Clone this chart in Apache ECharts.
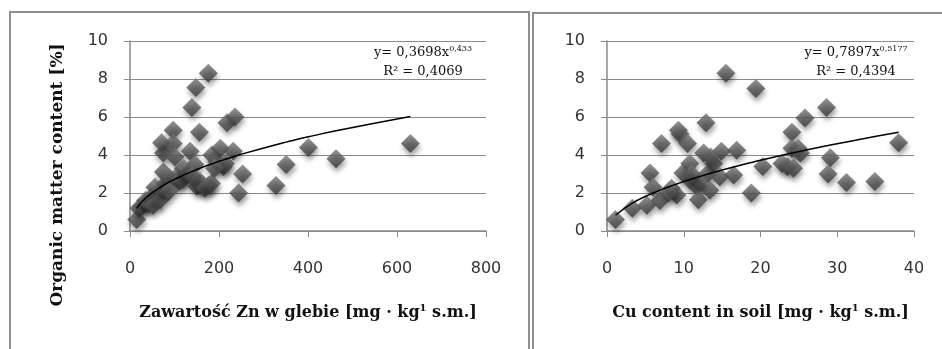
<!DOCTYPE html>
<html>
<head>
<meta charset="utf-8">
<script src="https://cdn.jsdelivr.net/npm/echarts@6/dist/echarts.min.js"></script>
<style>
html,body{margin:0;padding:0;background:#fff;}
#c{width:942px;height:349px;}
</style>
</head>
<body>
<div id="c"></div>
<script>
// ---- Data ----
var znX = [15, 20, 28, 35, 42, 49, 52, 56, 62, 68, 72, 75, 75, 71, 80, 88, 97, 97, 101, 105, 110, 118, 128, 135, 139, 148, 176, 156, 146, 150, 157, 161, 168, 176, 183, 184, 195, 203, 210, 214, 218, 236, 232, 244, 253, 328, 351, 401, 463, 630, 120, 88, 140, 190];
var znY = [0.6, 1.2, 1.3, 1.6, 1.45, 1.8, 1.35, 2.3, 2.0, 1.65, 2.2, 3.1, 4.1, 4.65, 2.5, 2.8, 5.3, 4.6, 3.9, 2.85, 2.6, 2.7, 3.0, 4.2, 6.5, 7.55, 8.3, 5.2, 3.5, 2.35, 2.6, 2.45, 2.25, 2.4, 2.5, 4.0, 3.65, 4.35, 3.4, 3.55, 5.7, 6.0, 4.2, 2.0, 3.0, 2.4, 3.5, 4.4, 3.8, 4.6, 3.3, 2.1, 2.9, 3.3];
var cuX = [1.1, 3.3, 5.2, 6.9, 5.6, 6.0, 7.1, 9.3, 9.5, 10.5, 9.1, 8.4, 9.9, 10.8, 10.8, 11.7, 11.9, 12.6, 12.9, 13.2, 13.4, 13.9, 14.7, 14.9, 15.5, 16.9, 16.5, 18.8, 19.4, 20.3, 22.8, 23.5, 24.1, 24.1, 24.9, 24.3, 25.8, 28.6, 29.1, 28.8, 31.2, 34.9, 38.0, 12.0, 11.0, 8.0, 13.5, 25.2];
var cuY = [0.6, 1.2, 1.35, 1.6, 3.05, 2.3, 4.6, 5.3, 5.1, 4.6, 1.9, 2.25, 3.05, 3.55, 2.7, 2.35, 1.65, 4.1, 5.7, 3.05, 2.15, 3.55, 2.85, 4.2, 8.3, 4.25, 2.95, 2.0, 7.5, 3.4, 3.55, 3.4, 5.2, 4.35, 4.35, 3.3, 5.95, 6.5, 3.85, 3.0, 2.55, 2.6, 4.65, 2.6, 3.0, 2.0, 3.9, 4.1];
// trend line equations shown on the chart: y = a * x^b
var znTrend = [0.3698, 0.433];
var cuTrend = [0.7897, 0.5177];
var znEq = ["y= 0,3698x", "0,433", "R² = 0,4069"];
var cuEq = ["y= 0,7897x", "0,5177", "R² = 0,4394"];
var yTicks = [0, 2, 4, 6, 8, 10];
var znTicks = [0, 200, 400, 600, 800];
var cuTicks = [0, 10, 20, 30, 40];
var yTitle = 'Organic matter content [%]';
var znTitle = 'Zawartość Zn w glebie [mg · kg{sup|1} s.m.]';
var cuTitle = 'Cu content in soil [mg · kg{sup|1} s.m.]';

function pairs(xs, ys){ return xs.map(function(x,i){ return [x, ys[i]]; }); }
function trend(xs, coef){
  var s = xs.slice().sort(function(a,b){return a-b;});
  return s.map(function(x){ return [x, coef[0]*Math.pow(x, coef[1])]; });
}

var gridColor = '#8a8a8a';
var labelFont = {fontFamily:'DejaVu Sans', fontSize:16, color:'#333'};
var markerStyle = {
  color: {type:'linear', x:0, y:0, x2:0, y2:1, colorStops:[{offset:0,color:'#7a7a7a'},{offset:0.5,color:'#555'},{offset:1,color:'#383838'}]},
  shadowColor:'rgba(0,0,0,0.45)', shadowBlur:5, shadowOffsetX:1, shadowOffsetY:4
};

function yAxisCfg(gi){
  return {
    type:'value', gridIndex:gi, min:yTicks[0], max:yTicks[yTicks.length-1], interval:2,
    axisLine:{show:true, lineStyle:{color:gridColor, width:1.5}},
    axisTick:{show:true, length:6, lineStyle:{color:gridColor}},
    splitLine:{show:true, lineStyle:{color:gridColor, width:1}},
    axisLabel:Object.assign({margin:22}, labelFont)
  };
}
function xAxisCfg(gi, ticks, name){
  return {
    type:'value', gridIndex:gi, min:ticks[0], max:ticks[ticks.length-1], interval:ticks[1]-ticks[0],
    axisLine:{show:true, lineStyle:{color:gridColor, width:1.5}},
    axisTick:{show:true, length:6, lineStyle:{color:gridColor}},
    splitLine:{show:false},
    axisLabel:Object.assign({margin:30}, labelFont),
    name: name,
    nameLocation:'middle',
    nameGap:72,
    nameTextStyle:{fontFamily:'DejaVu Serif', fontWeight:'bold', fontSize:16, color:'#111',
      rich:{sup:{fontFamily:'DejaVu Serif', fontWeight:'bold', fontSize:10, color:'#111', padding:[0,0,9,0]}}}
  };
}

function eqText(x, y, eq){
  return [
    {type:'text', x:x, y:y, style:{text:eq[0]+'{s|'+eq[1]+'}', fontFamily:'DejaVu Serif', fontSize:13, fill:'#111', align:'center', verticalAlign:'middle',
      rich:{s:{fontFamily:'DejaVu Serif', fontSize:8, fill:'#111', padding:[0,0,8,0]}}}, z:10},
    {type:'text', x:x, y:y+19, style:{text:eq[2], fontFamily:'DejaVu Serif', fontSize:13, fill:'#111', align:'center', verticalAlign:'middle'}, z:10}
  ];
}

var chart = echarts.init(document.getElementById('c'), null, {renderer:'canvas'});
chart.setOption({
  backgroundColor:'#fff',
  animation:false,
  grid:[
    {left:130, top:41, width:356, height:190},
    {left:607, top:41, width:307, height:190}
  ],
  xAxis:[ xAxisCfg(0, znTicks, znTitle), xAxisCfg(1, cuTicks, cuTitle) ],
  yAxis:[ yAxisCfg(0), yAxisCfg(1) ],
  graphic:[
    {type:'rect', shape:{x:10, y:12, width:519, height:400}, style:{fill:null, stroke:'#8f8f8f', lineWidth:2}, z:-1},
    {type:'rect', shape:{x:533, y:13, width:460, height:400}, style:{fill:null, stroke:'#8f8f8f', lineWidth:2}, z:-1},
    {type:'text', x:58, y:175, rotation:Math.PI/2, style:{text:yTitle, fontFamily:'DejaVu Serif', fontWeight:'bold', fontSize:17, fill:'#111', align:'center', verticalAlign:'middle'}, z:10}
  ].concat(eqText(423, 53, znEq)).concat(eqText(856, 53, cuEq)),
  series:[
    {type:'scatter', xAxisIndex:0, yAxisIndex:0, symbol:'diamond', symbolSize:19, data:pairs(znX, znY), itemStyle:markerStyle, z:2},
    {type:'line', xAxisIndex:0, yAxisIndex:0, data:trend(znX, znTrend), showSymbol:false, smooth:true, lineStyle:{color:'#000', width:1.5}, z:3},
    {type:'scatter', xAxisIndex:1, yAxisIndex:1, symbol:'diamond', symbolSize:19, data:pairs(cuX, cuY), itemStyle:markerStyle, z:2},
    {type:'line', xAxisIndex:1, yAxisIndex:1, data:trend(cuX, cuTrend), showSymbol:false, smooth:true, lineStyle:{color:'#000', width:1.5}, z:3}
  ]
});
</script>
</body>
</html>
